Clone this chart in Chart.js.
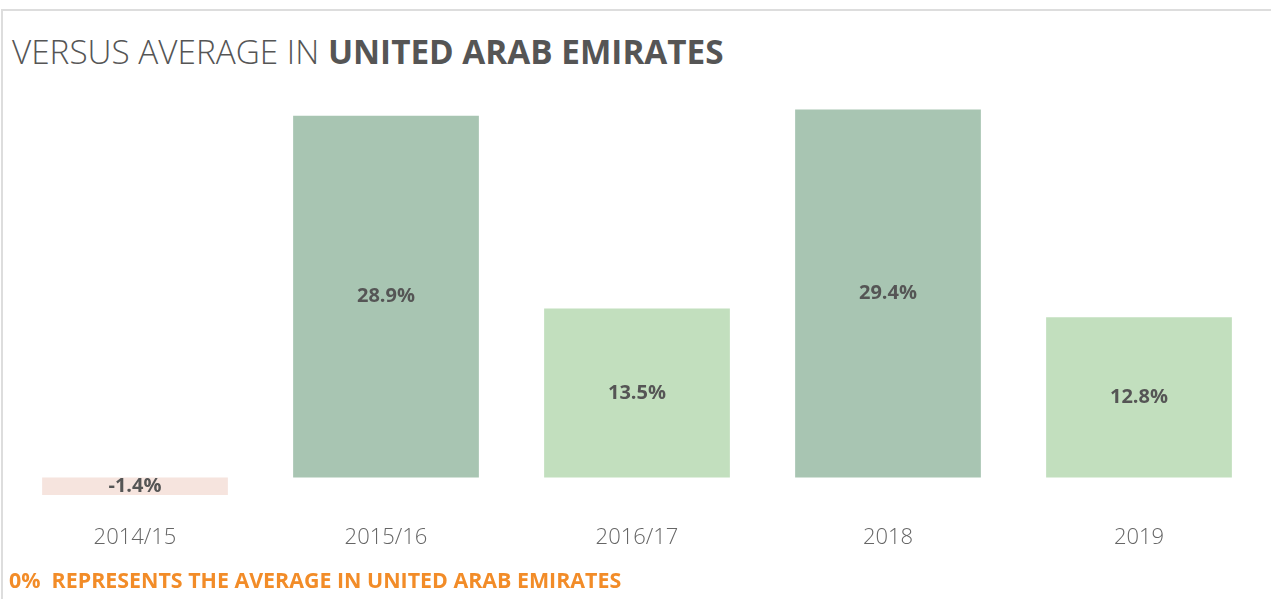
<!DOCTYPE html>
<html>
<head>
<meta charset="utf-8">
<script src="https://cdn.jsdelivr.net/npm/chart.js@4.4.1/dist/chart.umd.min.js"></script>
<style>
  html, body { margin: 0; padding: 0; background: #fff; }
  body { width: 1271px; height: 599px; position: relative; overflow: hidden; font-family: 'Open Sans', sans-serif; }
  .card { position: absolute; left: 1px; top: 9px; width: 1275px; height: 600px; border-top: 2px solid #ddd; border-left: 2px solid #ddd; box-sizing: border-box; }
  .title { position: absolute; left: 12px; top: 28px; font-size: 33.3px; color: #555; white-space: nowrap; }
  .title .lt { font-weight: 300; }
  .title b { font-weight: 700; }
  .note { position: absolute; left: 9px; top: 565px; font-size: 21.4px; font-weight: 700; color: #f28c28; white-space: nowrap; }
  #wrap { position: absolute; left: 0; top: 0; width: 1271px; height: 599px; }
</style>
</head>
<body>
<div class="card"></div>
<div class="title"><span class="lt">VERSUS AVERAGE IN </span><b>UNITED ARAB EMIRATES</b></div>
<div id="wrap"><canvas id="chart"></canvas></div>
<div class="note">0%&nbsp; REPRESENTS THE AVERAGE IN UNITED ARAB EMIRATES</div>
<script>
const years = ['2014/15', '2015/16', '2016/17', '2018', '2019']
const versusAvg = [-1.4, 28.9, 13.5, 29.4, 12.8]
const barColors = ['#f6e4de', '#a8c5b2', '#c2dfbe', '#a8c5b2', '#c2dfbe']

// value labels in the middle of each bar
const valueLabels = {
  id: 'valueLabels',
  afterDatasetsDraw(chart) {
    const ctx = chart.ctx
    const meta = chart.getDatasetMeta(0)
    ctx.save()
    ctx.font = '700 20px "Open Sans"'
    ctx.fillStyle = '#555'
    ctx.textAlign = 'center'
    ctx.textBaseline = 'middle'
    meta.data.forEach((bar, i) => {
      const y = (bar.y + bar.base) / 2
      ctx.fillText(versusAvg[i].toFixed(1) + '%', bar.x, y)
    })
    ctx.restore()
  }
}

const chart = document.getElementById('chart')

new Chart(chart, {
  type: 'bar',
  data: {
    labels: years,
    datasets: [{
      data: versusAvg,
      backgroundColor: barColors,
      borderWidth: 0,
      categoryPercentage: 0.74,
      barPercentage: 1
    }]
  },
  options: {
    responsive: true,
    maintainAspectRatio: false,
    animation: false,
    layout: { padding: { left: 9.5, right: 6.5, top: 102, bottom: 26 } },
    plugins: {
      legend: { display: false },
      tooltip: { enabled: false }
    },
    scales: {
      x: {
        grid: { display: false, drawTicks: false },
        border: { display: false },
        ticks: { color: '#666', font: { family: 'Open Sans', size: 22, weight: '300' }, padding: 22 }
      },
      y: {
        display: false,
        min: -2,
        max: 30
      }
    }
  },
  plugins: [valueLabels]
});
</script>
</body>
</html>
